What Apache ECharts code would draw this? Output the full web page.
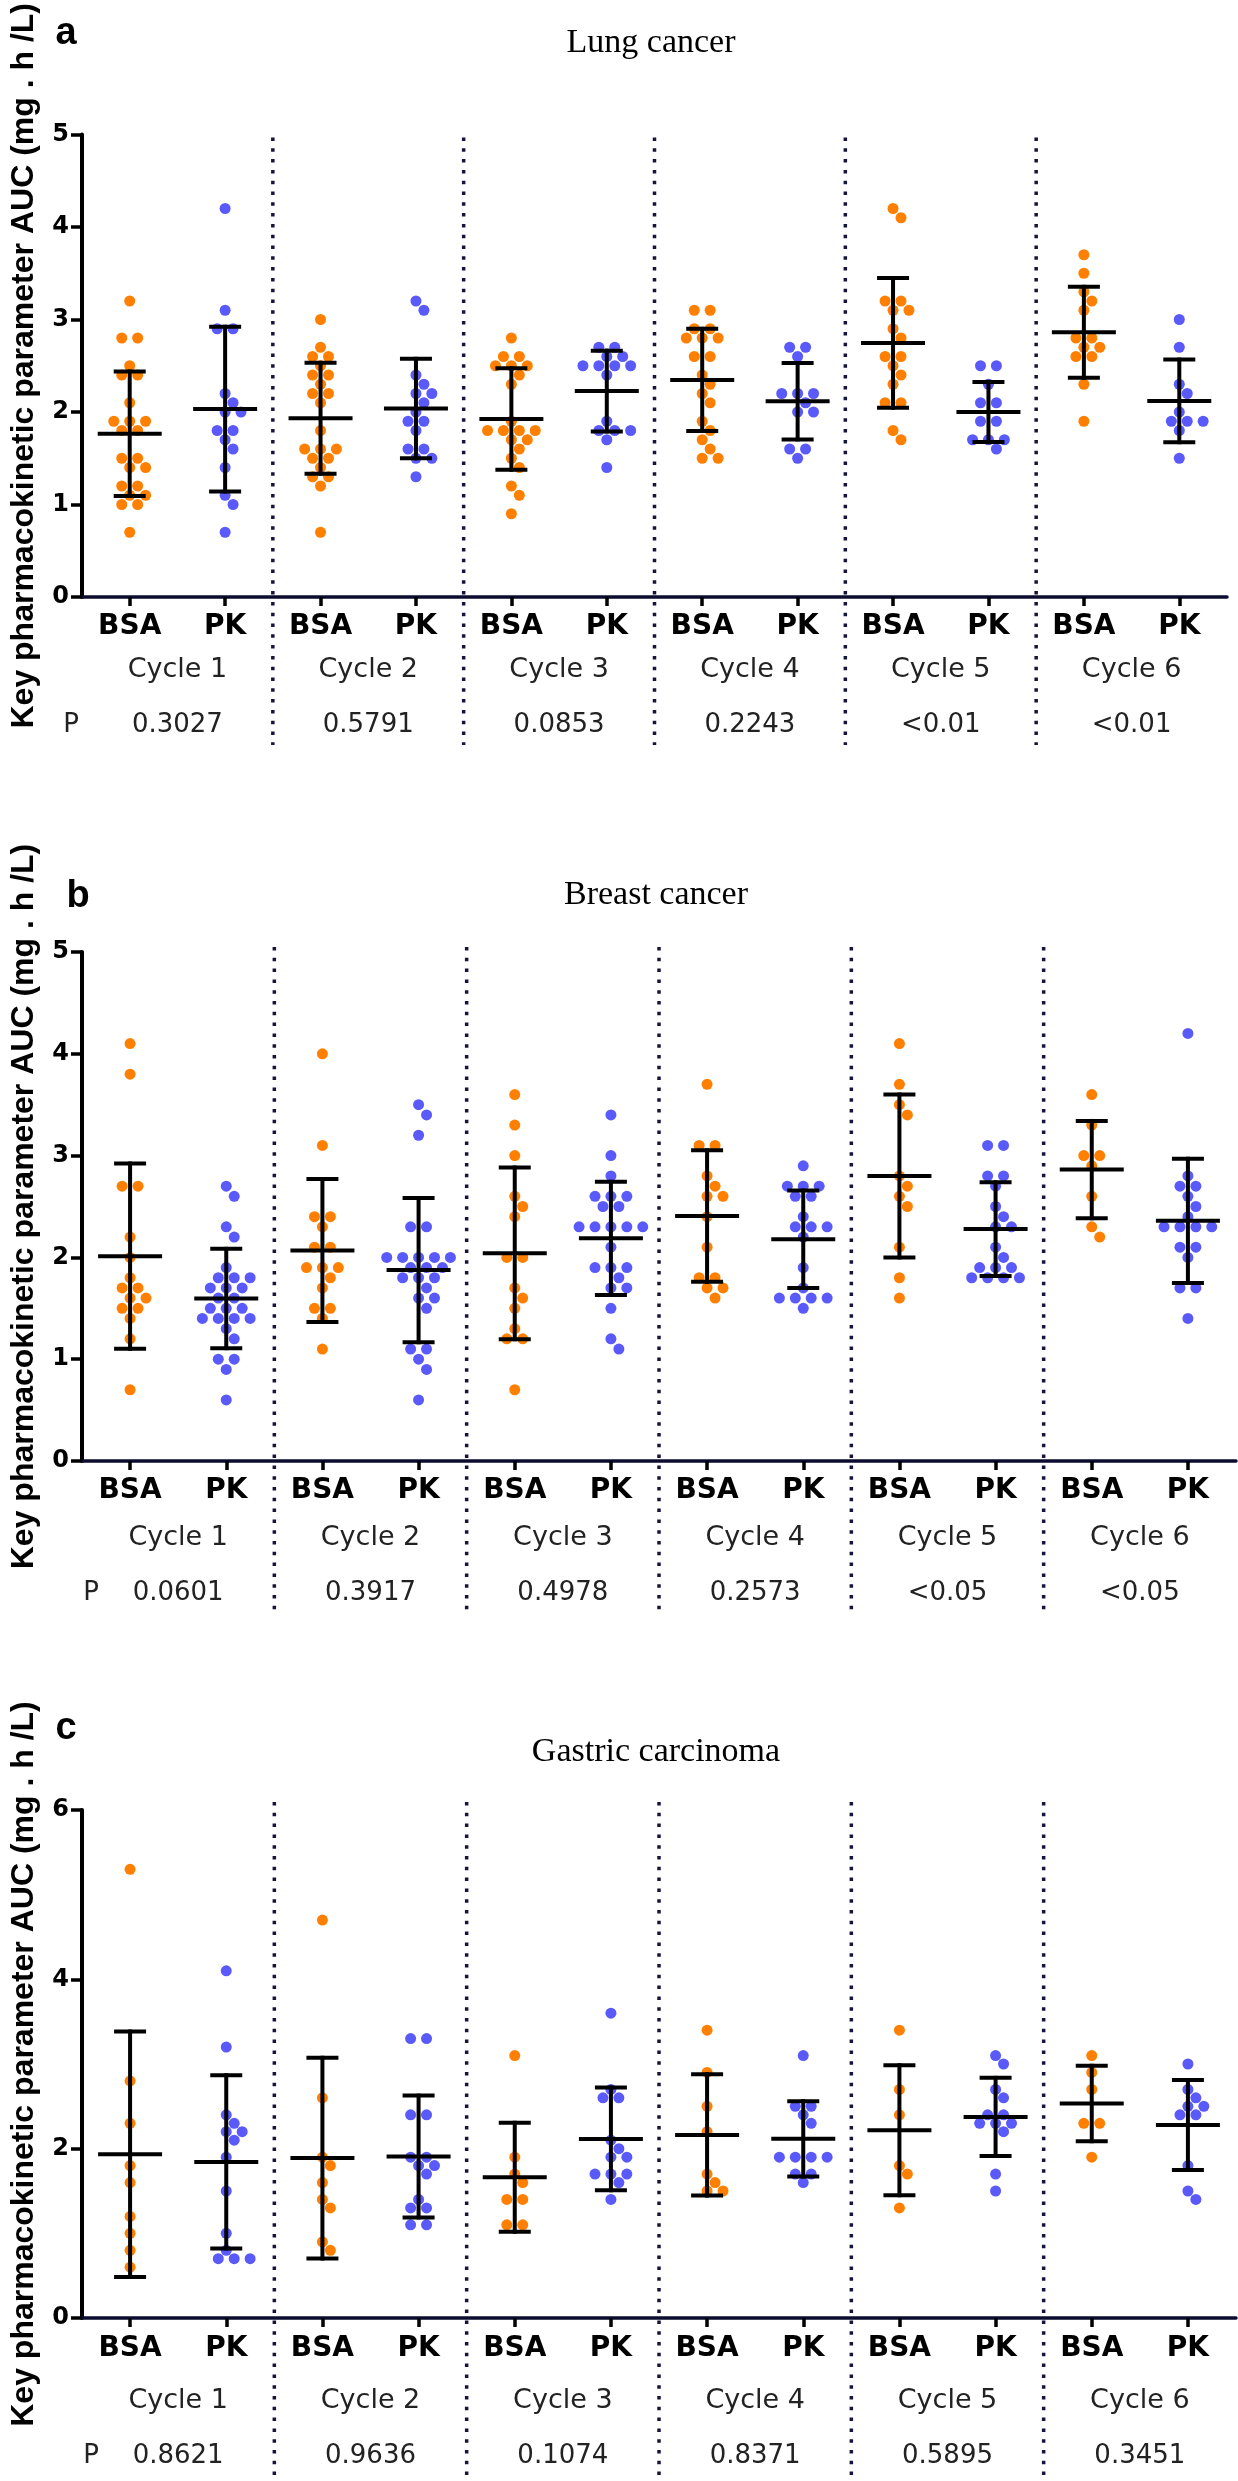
<!DOCTYPE html>
<html>
<head>
<meta charset="utf-8">
<script src="https://cdn.jsdelivr.net/npm/echarts@6/dist/echarts.min.js"></script>
<style>
html,body{margin:0;padding:0;background:#fff;}
#chart{width:1238px;height:2481px;}
</style>
</head>
<body>
<div id="chart"></div>
<script>
// ---------------- DATA ----------------
const cycles = ['Cycle 1', 'Cycle 2', 'Cycle 3', 'Cycle 4', 'Cycle 5', 'Cycle 6'];
const groupLabels = ['BSA', 'PK'];

const lungBSA = [
  [3.2, 2.8, 2.8, 2.5, 2.4, 2.4, 2.1, 1.9, 1.9, 1.9, 1.8, 1.8, 1.5, 1.5, 1.4, 1.4, 1.2, 1.2, 1.1, 1.1, 1.0, 1.0, 0.7],
  [3.0, 2.7, 2.6, 2.6, 2.5, 2.4, 2.4, 2.3, 2.2, 2.2, 2.1, 1.8, 1.6, 1.6, 1.6, 1.5, 1.5, 1.4, 1.3, 1.3, 1.2, 0.7],
  [2.8, 2.6, 2.6, 2.5, 2.5, 2.5, 2.4, 2.3, 1.9, 1.8, 1.8, 1.8, 1.8, 1.7, 1.7, 1.6, 1.5, 1.4, 1.2, 1.1, 0.9],
  [3.1, 3.1, 2.9, 2.9, 2.8, 2.8, 2.8, 2.6, 2.6, 2.4, 2.3, 2.2, 2.1, 1.9, 1.8, 1.7, 1.6, 1.5, 1.5],
  [4.2, 4.1, 3.2, 3.2, 3.1, 3.1, 2.9, 2.8, 2.6, 2.6, 2.5, 2.4, 2.3, 2.1, 2.1, 1.8, 1.7],
  [3.7, 3.5, 3.3, 3.2, 3.1, 2.8, 2.8, 2.7, 2.7, 2.6, 2.6, 2.3, 1.9]
];
const lungPK = [
  [4.2, 3.1, 2.9, 2.9, 2.2, 2.1, 2.0, 2.0, 1.8, 1.8, 1.7, 1.6, 1.4, 1.1, 1.0, 0.7],
  [3.2, 3.1, 2.4, 2.3, 2.2, 2.2, 2.1, 2.0, 1.9, 1.9, 1.8, 1.6, 1.6, 1.5, 1.5, 1.3],
  [2.7, 2.7, 2.6, 2.6, 2.5, 2.5, 2.5, 2.5, 2.4, 1.9, 1.8, 1.8, 1.8, 1.7, 1.4],
  [2.7, 2.7, 2.6, 2.2, 2.2, 2.2, 2.1, 2.0, 2.0, 1.6, 1.6, 1.5],
  [2.5, 2.5, 2.3, 2.1, 2.1, 1.9, 1.9, 1.7, 1.7, 1.7, 1.6],
  [3.0, 2.7, 2.3, 2.2, 2.0, 1.9, 1.9, 1.9, 1.8, 1.5]
];
const lungP = ['0.3027', '0.5791', '0.0853', '0.2243', '<0.01', '<0.01'];

const breastBSA = [
  [4.1, 3.8, 2.7, 2.7, 2.2, 2.0, 1.8, 1.7, 1.7, 1.6, 1.6, 1.5, 1.5, 1.4, 1.2, 0.7],
  [4.0, 3.1, 2.4, 2.4, 2.3, 2.1, 2.1, 1.9, 1.9, 1.9, 1.8, 1.7, 1.5, 1.5, 1.4, 1.1],
  [3.6, 3.3, 3.0, 2.6, 2.5, 2.4, 2.0, 2.0, 1.7, 1.6, 1.5, 1.3, 1.2, 1.2, 0.7],
  [3.7, 3.1, 3.1, 2.8, 2.7, 2.6, 2.6, 2.4, 2.1, 1.8, 1.8, 1.7, 1.7, 1.6],
  [4.1, 3.7, 3.5, 3.4, 2.8, 2.7, 2.6, 2.5, 2.1, 1.8, 1.6],
  [3.6, 3.3, 3.0, 3.0, 2.9, 2.6, 2.3, 2.2]
];
const breastPK = [
  [2.7, 2.6, 2.3, 2.2, 1.9, 1.8, 1.8, 1.8, 1.7, 1.7, 1.7, 1.6, 1.6, 1.5, 1.5, 1.5, 1.4, 1.4, 1.4, 1.4, 1.3, 1.2, 1.0, 1.0, 0.9, 0.6],
  [3.5, 3.4, 3.2, 2.3, 2.3, 2.0, 2.0, 2.0, 2.0, 2.0, 1.9, 1.9, 1.9, 1.8, 1.8, 1.8, 1.7, 1.6, 1.6, 1.5, 1.1, 1.1, 1.0, 0.9, 0.6],
  [3.4, 3.0, 2.8, 2.6, 2.6, 2.6, 2.5, 2.5, 2.3, 2.3, 2.3, 2.3, 2.3, 2.1, 1.9, 1.9, 1.9, 1.8, 1.7, 1.7, 1.5, 1.2, 1.1],
  [2.9, 2.7, 2.7, 2.7, 2.6, 2.6, 2.4, 2.3, 2.3, 2.3, 2.2, 1.9, 1.7, 1.6, 1.6, 1.6, 1.6, 1.5],
  [3.1, 3.1, 2.8, 2.8, 2.7, 2.5, 2.4, 2.3, 2.3, 2.1, 2.0, 1.9, 1.9, 1.9, 1.8, 1.8, 1.8, 1.8],
  [4.2, 2.8, 2.7, 2.7, 2.6, 2.5, 2.4, 2.3, 2.3, 2.3, 2.3, 2.1, 2.1, 2.0, 1.7, 1.7, 1.4]
];
const breastP = ['0.0601', '0.3917', '0.4978', '0.2573', '<0.05', '<0.05'];

const gastricBSA = [
  [5.3, 2.8, 2.3, 1.8, 1.6, 1.2, 1.0, 0.8, 0.6],
  [4.7, 2.6, 1.9, 1.8, 1.6, 1.4, 1.3, 0.9, 0.8],
  [3.1, 1.9, 1.7, 1.6, 1.4, 1.4, 1.1, 1.1],
  [3.4, 2.9, 2.5, 2.2, 1.7, 1.6, 1.5, 1.5],
  [3.4, 2.7, 2.4, 1.8, 1.7, 1.3],
  [3.1, 2.9, 2.7, 2.3, 2.3, 1.9]
];
const gastricPK = [
  [4.1, 3.2, 2.4, 2.3, 2.2, 2.2, 2.1, 1.9, 1.5, 1.0, 0.8, 0.7, 0.7, 0.7],
  [3.3, 3.3, 2.4, 2.4, 1.9, 1.9, 1.8, 1.8, 1.7, 1.4, 1.3, 1.3, 1.1, 1.1],
  [3.6, 2.7, 2.6, 2.6, 2.1, 2.0, 1.9, 1.9, 1.7, 1.7, 1.7, 1.6, 1.4],
  [3.1, 2.5, 2.5, 2.4, 2.3, 1.9, 1.9, 1.9, 1.9, 1.7, 1.7, 1.6],
  [3.1, 3.0, 2.7, 2.6, 2.4, 2.4, 2.3, 2.3, 2.3, 2.2, 1.7, 1.5],
  [3.0, 2.7, 2.6, 2.5, 2.5, 2.4, 2.4, 1.8, 1.5, 1.4]
];
const gastricP = ['0.8621', '0.9636', '0.1074', '0.8371', '0.5895', '0.3451'];

const yTicksLungBreast = { max: 5, interval: 1 };
const yTicksGastric = { max: 6, interval: 2 };

// ---------------- LAYOUT / STYLE ----------------
const ORANGE = '#FF8000';
const BLUE = '#5A5AFA';
const AXIS_NAME = 'Key pharmacokinetic parameter AUC (mg . h /L)';

const panels = [
  { letter: 'a', title: 'Lung cancer', bsa: lungBSA, pk: lungPK, p: lungP, y: yTicksLungBreast,
    grid: { left: 75, top: 93, width: 1152, height: 504 }, letterXY: [66, 34], titleY: 43,
    pX: 71, offBSA: 30, offCyc: 73, offP: 128, sepTop: 3, sepExt: 148 },
  { letter: 'b', title: 'Breast cancer', bsa: breastBSA, pk: breastPK, p: breastP, y: yTicksLungBreast,
    grid: { left: 76, top: 952, width: 1160, height: 509 }, letterXY: [78, 897], titleY: 895,
    pX: 91, offBSA: 30, offCyc: 77, offP: 132, sepTop: -5, sepExt: 155 },
  { letter: 'c', title: 'Gastric carcinoma', bsa: gastricBSA, pk: gastricPK, p: gastricP, y: yTicksGastric,
    grid: { left: 76, top: 1810, width: 1160, height: 508 }, letterXY: [66, 1729], titleY: 1752,
    pX: 91, offBSA: 31, offCyc: 83, offP: 138, sepTop: -8, sepExt: 170 }
];

function stats(arr) {
  const n = arr.length;
  const m = arr.reduce((s, v) => s + v, 0) / n;
  const sd = Math.sqrt(arr.reduce((s, v) => s + (v - m) * (v - m), 0) / (n - 1));
  return [m, sd];
}

// beeswarm placement (pixel space -> band units)
function swarm(values, center, pxY, pxBand) {
  const sorted = values.slice().sort((a, b) => b - a);
  const rows = [];
  sorted.forEach(v => {
    if (rows.length && Math.abs(rows[rows.length - 1].v - v) < 1e-9) rows[rows.length - 1].n++;
    else rows.push({ v: v, n: 1 });
  });
  const S = 16, H = 8, MIN = 11.5;
  const placed = [];
  const out = [];
  rows.forEach(r => {
    const y = r.v * pxY;
    const base = [];
    for (let i = 0; i < r.n; i++) base.push((i - (r.n - 1) / 2) * S);
    const shifts = [0];
    for (let k = 1; k < 10; k++) { shifts.push(k * H, -k * H); }
    let chosen = 0;
    for (const s of shifts) {
      const ok = base.every(bx => placed.every(p => Math.hypot(p[0] - (bx + s), p[1] - y) >= MIN));
      if (ok) { chosen = s; break; }
    }
    base.forEach(bx => {
      placed.push([bx + chosen, y]);
      out.push([center + (bx + chosen) / pxBand, r.v]);
    });
  });
  return out;
}

const grids = [], xAxes = [], yAxes = [], series = [], graphics = [];

panels.forEach((P, i) => {
  grids.push(P.grid);
  const pxBand = P.grid.width / 12;
  const pxY = P.grid.height / P.y.max;

  yAxes.push({
    gridIndex: i, type: 'value', min: 0, max: P.y.max, interval: P.y.interval, position: 'left',
    name: AXIS_NAME, nameLocation: 'middle', nameGap: 42,
    nameTextStyle: { fontFamily: 'Liberation Sans, Arial, sans-serif', fontWeight: 'bold', fontSize: 32, color: '#000' },
    axisLine: { show: true, onZero: false, lineStyle: { color: '#000', width: 4 } },
    axisTick: { show: true, inside: false, length: 11, lineStyle: { color: '#000', width: 3.5 } },
    axisLabel: { margin: 13, fontFamily: 'DejaVu Sans', fontWeight: 'bold', fontSize: 24, color: '#000' },
    splitLine: { show: false }
  });

  const groupCats = [];
  cycles.forEach(() => groupLabels.forEach(g => groupCats.push(g)));

  // 4i: BSA/PK labels axis
  xAxes.push({
    gridIndex: i, type: 'category', position: 'bottom', data: groupCats, boundaryGap: true,
    axisLine: { show: true, onZero: false, lineStyle: { color: '#0c0c30', width: 3.5 } },
    axisTick: { show: true, alignWithLabel: true, length: 9, lineStyle: { color: '#000', width: 3.5 } },
    axisLabel: { interval: 0, margin: P.offBSA - 14, fontFamily: 'DejaVu Sans', fontWeight: 'bold', fontSize: 28, lineHeight: 28, color: '#000' },
    splitLine: { show: false }
  });
  // 4i+1: value axis for points
  xAxes.push({ gridIndex: i, type: 'value', min: -0.5, max: 11.5, show: false, position: 'bottom',
    axisLine: { onZero: false }, splitLine: { show: false } });
  // 4i+2: cycle labels
  xAxes.push({
    gridIndex: i, type: 'category', position: 'bottom', data: cycles, boundaryGap: true,
    axisLine: { show: false, onZero: false }, axisTick: { show: false },
    axisLabel: { interval: 0, margin: P.offCyc - 13.5, fontFamily: 'DejaVu Sans', fontSize: 27, lineHeight: 27, color: '#222' },
    splitLine: { show: false }
  });
  // 4i+3: P-value labels
  xAxes.push({
    gridIndex: i, type: 'category', position: 'bottom', data: P.p, boundaryGap: true,
    axisLine: { show: false, onZero: false }, axisTick: { show: false },
    axisLabel: { interval: 0, margin: P.offP - 13, fontFamily: 'DejaVu Sans', fontSize: 26, lineHeight: 26, color: '#222' },
    splitLine: { show: false }
  });

  const vx = 4 * i + 1;
  const bsaPts = [], pkPts = [], bars = [];
  cycles.forEach((c, k) => {
    const cb = 2 * k, cp = 2 * k + 1;
    swarm(P.bsa[k], cb, pxY, pxBand).forEach(p => bsaPts.push(p));
    swarm(P.pk[k], cp, pxY, pxBand).forEach(p => pkPts.push(p));
    const sb = stats(P.bsa[k]), sp = stats(P.pk[k]);
    bars.push([cb, sb[0], sb[1]]);
    bars.push([cp, sp[0], sp[1]]);
  });

  series.push({
    type: 'scatter', xAxisIndex: vx, yAxisIndex: i, data: bsaPts, symbol: 'circle', symbolSize: 11,
    itemStyle: { color: ORANGE, opacity: 1 }, z: 2, silent: true
  });
  series.push({
    type: 'scatter', xAxisIndex: vx, yAxisIndex: i, data: pkPts, symbol: 'circle', symbolSize: 11,
    itemStyle: { color: BLUE, opacity: 1 }, z: 2, silent: true
  });
  series.push({
    type: 'custom', xAxisIndex: vx, yAxisIndex: i, data: bars, z: 4, silent: true,
    encode: { x: 0, y: 1 },
    renderItem: function (params, api) {
      const x = api.value(0), m = api.value(1), sd = api.value(2);
      const pm = api.coord([x, m]), pt = api.coord([x, m + sd]), pb = api.coord([x, m - sd]);
      const st = { stroke: '#000', lineWidth: 4, lineCap: 'butt' };
      return {
        type: 'group', children: [
          { type: 'line', shape: { x1: pm[0], y1: pt[1] - 2, x2: pm[0], y2: pb[1] + 2 }, style: st },
          { type: 'line', shape: { x1: pm[0] - 16, y1: pt[1], x2: pm[0] + 16, y2: pt[1] }, style: st },
          { type: 'line', shape: { x1: pm[0] - 16, y1: pb[1], x2: pm[0] + 16, y2: pb[1] }, style: st },
          { type: 'line', shape: { x1: pm[0] - 32, y1: pm[1], x2: pm[0] + 32, y2: pm[1] }, style: st }
        ]
      };
    }
  });
  // dotted separators between cycles
  const seps = [];
  for (let k = 1; k < cycles.length; k++) seps.push([2 * k - 0.5, 0]);
  const yMax = P.y.max, sepTop = P.sepTop, sepExt = P.sepExt;
  series.push({
    type: 'custom', xAxisIndex: vx, yAxisIndex: i, data: seps, z: 1, silent: true, clip: false,
    encode: { x: 0, y: 1 },
    renderItem: function (params, api) {
      const x = api.value(0);
      const t = api.coord([x, yMax]), b = api.coord([x, 0]);
      return {
        type: 'line',
        shape: { x1: t[0], y1: t[1] + sepTop, x2: t[0], y2: b[1] + sepExt },
        style: { stroke: '#14143c', lineWidth: 3.5, lineDash: [3.5, 7.3] }
      };
    }
  });

  // panel letter, title, "P"
  graphics.push({ type: 'text', x: P.letterXY[0], y: P.letterXY[1],
    style: { text: P.letter, fontFamily: 'Liberation Sans, Arial, sans-serif', fontWeight: 'bold', fontSize: 38, fill: '#000', align: 'center', verticalAlign: 'middle' } });
  graphics.push({ type: 'text', x: P.grid.left + P.grid.width / 2, y: P.titleY,
    style: { text: P.title, fontFamily: 'Liberation Serif, Times New Roman, serif', fontSize: 34, fill: '#000', align: 'center', verticalAlign: 'middle' } });
  graphics.push({ type: 'text', x: P.pX, y: P.grid.top + P.grid.height + P.offP,
    style: { text: 'P', fontFamily: 'DejaVu Sans', fontSize: 26, fill: '#222', align: 'center', verticalAlign: 'middle' } });
});

const chart = echarts.init(document.getElementById('chart'), null, { renderer: 'canvas' });
chart.setOption({
  animation: false,
  backgroundColor: '#fff',
  grid: grids,
  xAxis: xAxes,
  yAxis: yAxes,
  series: series,
  graphic: graphics
});
</script>
</body>
</html>
